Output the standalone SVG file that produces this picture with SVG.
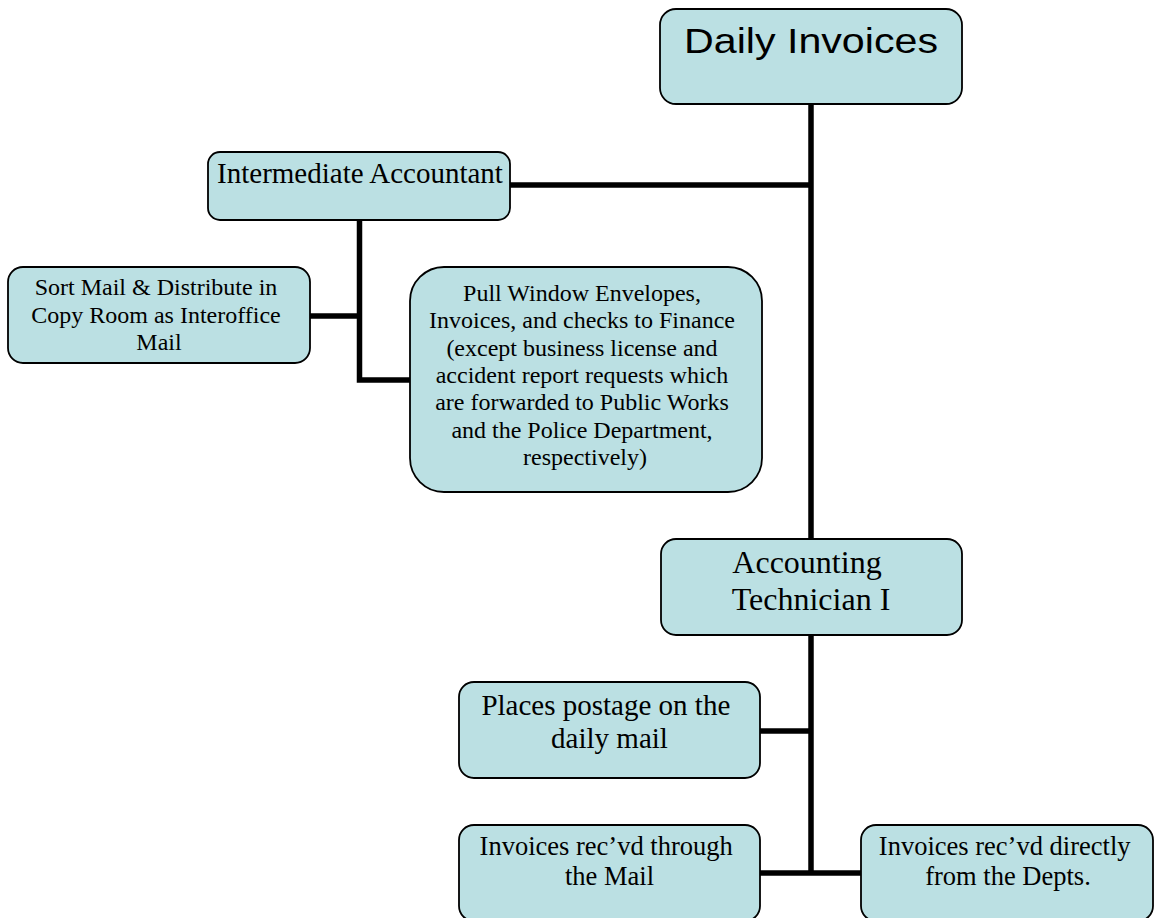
<svg xmlns="http://www.w3.org/2000/svg" width="1154" height="918" viewBox="0 0 1154 918">
  <style>
    .box { fill: #bbe0e3; stroke: #000; stroke-width: 1.8; }
    .wire { fill: none; stroke: #000; stroke-width: 5.5; stroke-linejoin: miter; stroke-linecap: butt; }
    .serif { font-family: "Liberation Serif", "Times New Roman", serif; fill: #000; text-anchor: middle; }
    .sans { font-family: "Liberation Sans", Arial, sans-serif; fill: #000; text-anchor: middle; }
  </style>
  <rect width="1154" height="918" fill="#fff"/>

  <!-- connectors -->
  <g id="connectors">
    <path class="wire" d="M811 104 V539"/>
    <path class="wire" d="M510 185 H811"/>
    <path class="wire" d="M359.5 220 V380 H410"/>
    <path class="wire" d="M310 316 H359.5"/>
    <path class="wire" d="M811 635 V873"/>
    <path class="wire" d="M760 731 H811"/>
    <path class="wire" d="M760 873 H861"/>
  </g>

  <g id="daily-invoices">
    <rect class="box" x="660" y="9" width="302" height="95" rx="16"/>
    <text class="sans" x="811" y="53" font-size="35" textLength="254" lengthAdjust="spacingAndGlyphs">Daily Invoices</text>
  </g>

  <g id="intermediate-accountant">
    <rect class="box" x="208" y="152" width="302" height="68" rx="12"/>
    <text class="serif" x="360" y="183" font-size="29">Intermediate Accountant</text>
  </g>

  <g id="sort-mail">
    <rect class="box" x="8" y="267" width="302" height="96" rx="15"/>
    <text class="serif" font-size="24">
      <tspan x="159" y="295">Sort Mail &amp; Distribute in</tspan>
      <tspan x="159" y="323">Copy Room as Interoffice</tspan>
      <tspan x="159" y="350">Mail</tspan>
    </text>
  </g>

  <g id="pull-envelopes">
    <rect class="box" x="410" y="267" width="352" height="225" rx="34"/>
    <text class="serif" font-size="24">
      <tspan x="585" y="301">Pull Window Envelopes,</tspan>
      <tspan x="585" y="328.3">Invoices, and checks to Finance</tspan>
      <tspan x="585" y="355.6">(except business license and</tspan>
      <tspan x="585" y="382.9">accident report requests which</tspan>
      <tspan x="585" y="410.2">are forwarded to Public Works</tspan>
      <tspan x="585" y="437.5">and the Police Department,</tspan>
      <tspan x="585" y="464.8">respectively)</tspan>
    </text>
  </g>

  <g id="accounting-technician">
    <rect class="box" x="661" y="539" width="301" height="96" rx="15"/>
    <text class="serif" font-size="32">
      <tspan x="811" y="573">Accounting</tspan>
      <tspan x="811" y="610">Technician I</tspan>
    </text>
  </g>

  <g id="places-postage">
    <rect class="box" x="459" y="682" width="301" height="96" rx="15"/>
    <text class="serif" font-size="29">
      <tspan x="609.5" y="715">Places postage on the</tspan>
      <tspan x="609.5" y="748">daily mail</tspan>
    </text>
  </g>

  <g id="invoices-mail">
    <rect class="box" x="459" y="825" width="301" height="96" rx="15"/>
    <text class="serif" font-size="26.5">
      <tspan x="609.5" y="855">Invoices rec’vd through</tspan>
      <tspan x="609.5" y="885">the Mail</tspan>
    </text>
  </g>

  <g id="invoices-depts">
    <rect class="box" x="861" y="825" width="292" height="96" rx="15"/>
    <text class="serif" font-size="26.5">
      <tspan x="1008" y="855">Invoices rec’vd directly</tspan>
      <tspan x="1008" y="885">from the Depts.</tspan>
    </text>
  </g>
</svg>
